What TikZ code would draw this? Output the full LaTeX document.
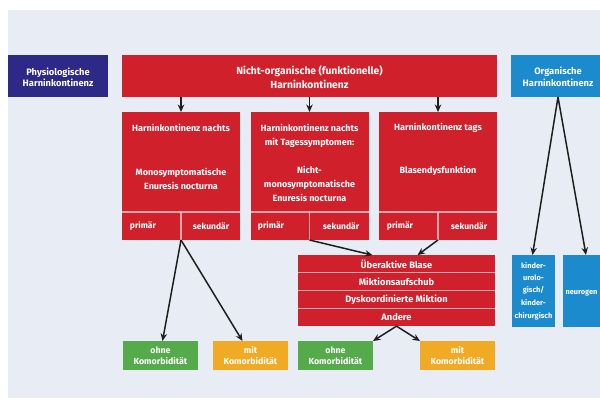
\documentclass[tikz,border=0pt]{standalone}
\usepackage{fontspec}
\setmainfont{Fira Sans}
\usetikzlibrary{arrows.meta,calc}
\definecolor{bgc}{RGB}{232,237,245}
\definecolor{redc}{RGB}{208,32,44}
\definecolor{purc}{RGB}{46,41,135}
\definecolor{bluc}{RGB}{27,139,206}
\definecolor{grnc}{RGB}{85,170,75}
\definecolor{orac}{RGB}{240,170,35}
\definecolor{arrc}{RGB}{30,30,30}
\definecolor{sepc}{RGB}{240,165,170}
\begin{document}
\begin{tikzpicture}[x=1pt,y=-1pt,
  boxbase/.style={inner sep=0pt, outer sep=0pt, text=white, align=center,
    font=\bfseries\fontsize{9}{14}\selectfont},
  redbox/.style={boxbase, fill=redc},
  rowbox/.style={redbox, minimum width=197pt, minimum height=17.75pt,
    font=\bfseries\fontsize{9.3}{11}\selectfont},
  purbox/.style={boxbase, fill=purc, font=\bfseries\fontsize{9.3}{11.5}\selectfont},
  blubox/.style={boxbase, fill=bluc},
  grnbox/.style={boxbase, fill=grnc, font=\bfseries\fontsize{8.8}{10.5}\selectfont},
  orabox/.style={boxbase, fill=orac, font=\bfseries\fontsize{8.8}{10.5}\selectfont},
  txt/.style={inner sep=0pt, text=white, align=center,
    font=\bfseries\fontsize{9}{14}\selectfont},
  smalltxt/.style={txt, font=\bfseries\fontsize{8.5}{12}\selectfont},
  sepline/.style={draw=sepc, line width=1.2pt},
  arr/.style={draw=arrc, line width=1.5pt, -{Stealth[length=7.5pt,width=6.5pt]}}
]
\useasboundingbox (0,0) rectangle (600,405);
\fill[white] (0,0) rectangle (600,405);
\fill[bgc] (8,10) rectangle (600,398);

% top row
\node[purbox, minimum width=100pt, minimum height=42pt] (phys) at (58,76) {};
\node[txt, font=\bfseries\fontsize{9.3}{11.5}\selectfont] (physt) at (58,77.5)
  {Physiologische\\Harninkontinenz};
\node[redbox, minimum width=375pt, minimum height=42pt] (top) at (309.5,76) {};
\node[txt, font=\bfseries\fontsize{10.3}{14}\selectfont] (topt) at (309.5,77)
  {Nicht-organische (funktionelle)\\Harninkontinenz};
\node[blubox, minimum width=94pt, minimum height=42pt] (org) at (558,76) {};
\node[txt, font=\bfseries\fontsize{9.3}{12}\selectfont] (orgt) at (558,77)
  {Organische\\Harninkontinenz};

% three red boxes
\node[redbox, minimum width=118pt, minimum height=128pt] (b1) at (181,176) {};
\node[redbox, minimum width=118pt, minimum height=128pt] (b2) at (309.5,176) {};
\node[redbox, minimum width=118pt, minimum height=128pt] (b3) at (438,176) {};

\node[txt] (b1h) at (181,128) {Harninkontinenz nachts};
\node[txt] (b1m) at (181,179) {Monosymptomatische\\Enuresis nocturna};
\node[txt] (b2h) at (309.5,136) {Harninkontinenz nachts\\mit Tagessymptomen:};
\node[txt] (b2m) at (309.5,184) {Nicht-\\monosymptomatische\\Enuresis nocturna};
\node[txt] (b3h) at (438,128) {Harninkontinenz tags};
\node[txt] (b3m) at (438,171) {Blasendysfunktion};

\draw[sepline] (122,212) -- (240,212);
\draw[sepline] (250.5,212) -- (368.5,212);
\draw[sepline] (379,212) -- (497,212);
\draw[sepline] (b1.south) -- ++(0,-28);
\draw[sepline] (b2.south) -- ++(0,-28);
\draw[sepline] (b3.south) -- ++(0,-28);

\node[smalltxt] (b1p) at (143,226) {primär};
\node[smalltxt] (b1s) at (211,226) {sekundär};
\node[smalltxt] (b2p) at (271,226) {primär};
\node[smalltxt] (b2s) at (341,226) {sekundär};
\node[smalltxt] (b3p) at (400,226) {primär};
\node[smalltxt] (b3s) at (469,226) {sekundär};

% lower red box with four rows
\node[rowbox] (r1) at (396.5,264) {Überaktive Blase};
\node[rowbox, anchor=north] (r2) at (r1.south) {Miktionsaufschub};
\node[rowbox, anchor=north] (r3) at (r2.south) {Dyskoordinierte Miktion};
\node[rowbox, anchor=north] (r4) at (r3.south) {Andere};
\draw[sepline] (r1.south west) -- (r1.south east);
\draw[sepline] (r2.south west) -- (r2.south east);
\draw[sepline] (r3.south west) -- (r3.south east);

% bottom boxes
\node[grnbox, minimum width=75pt, minimum height=29pt] (g1) at (160.5,355.5) {ohne\\Komorbidität};
\node[orabox, minimum width=75pt, minimum height=29pt] (o1) at (250.5,355.5) {mit\\Komorbidität};
\node[grnbox, minimum width=75pt, minimum height=29pt] (g2) at (335.5,355.5) {ohne\\Komorbidität};
\node[orabox, minimum width=75pt, minimum height=29pt] (o2) at (457.5,355.5) {mit\\Komorbidität};

% organic sub-boxes
\node[blubox, minimum width=43pt, minimum height=72pt,
  font=\bfseries\fontsize{7.4}{12.3}\selectfont] (bl1) at (533.5,291)
  {kinder-\\urolo-\\gisch/\\[1pt]kinder-\\chirurgisch};
\node[blubox, minimum width=62pt, minimum height=72pt] (bl2) at (594,291) {};
\node[txt, font=\bfseries\fontsize{7.4}{12}\selectfont] (bl2t) at (581.5,293) {neurogen};

% connectors
\draw[arr] (top.south -| b1.north) -- (b1.north);
\draw[arr] (top.south -| b2.north) -- (b2.north);
\draw[arr] (top.south -| b3.north) -- (b3.north);
\draw[arr] (b1.south) -- ([xshift=2pt]g1.north);
\draw[arr] (b1.south) -- ([xshift=-8pt]o1.north);
\draw[arr] (b2.south) -- ([xshift=-24pt]r1.north);
\draw[arr] (b3.south) -- ([xshift=21pt]r1.north);
\draw[arr] (r4.south) -- (g2.north east);
\draw[arr] (r4.south) -- (o2.north west);
\draw[arr] (org.south) -- ([xshift=-1pt]bl1.north);
\draw[arr] (org.south) -- ([xshift=-8pt]bl2.north);
\end{tikzpicture}
\end{document}
